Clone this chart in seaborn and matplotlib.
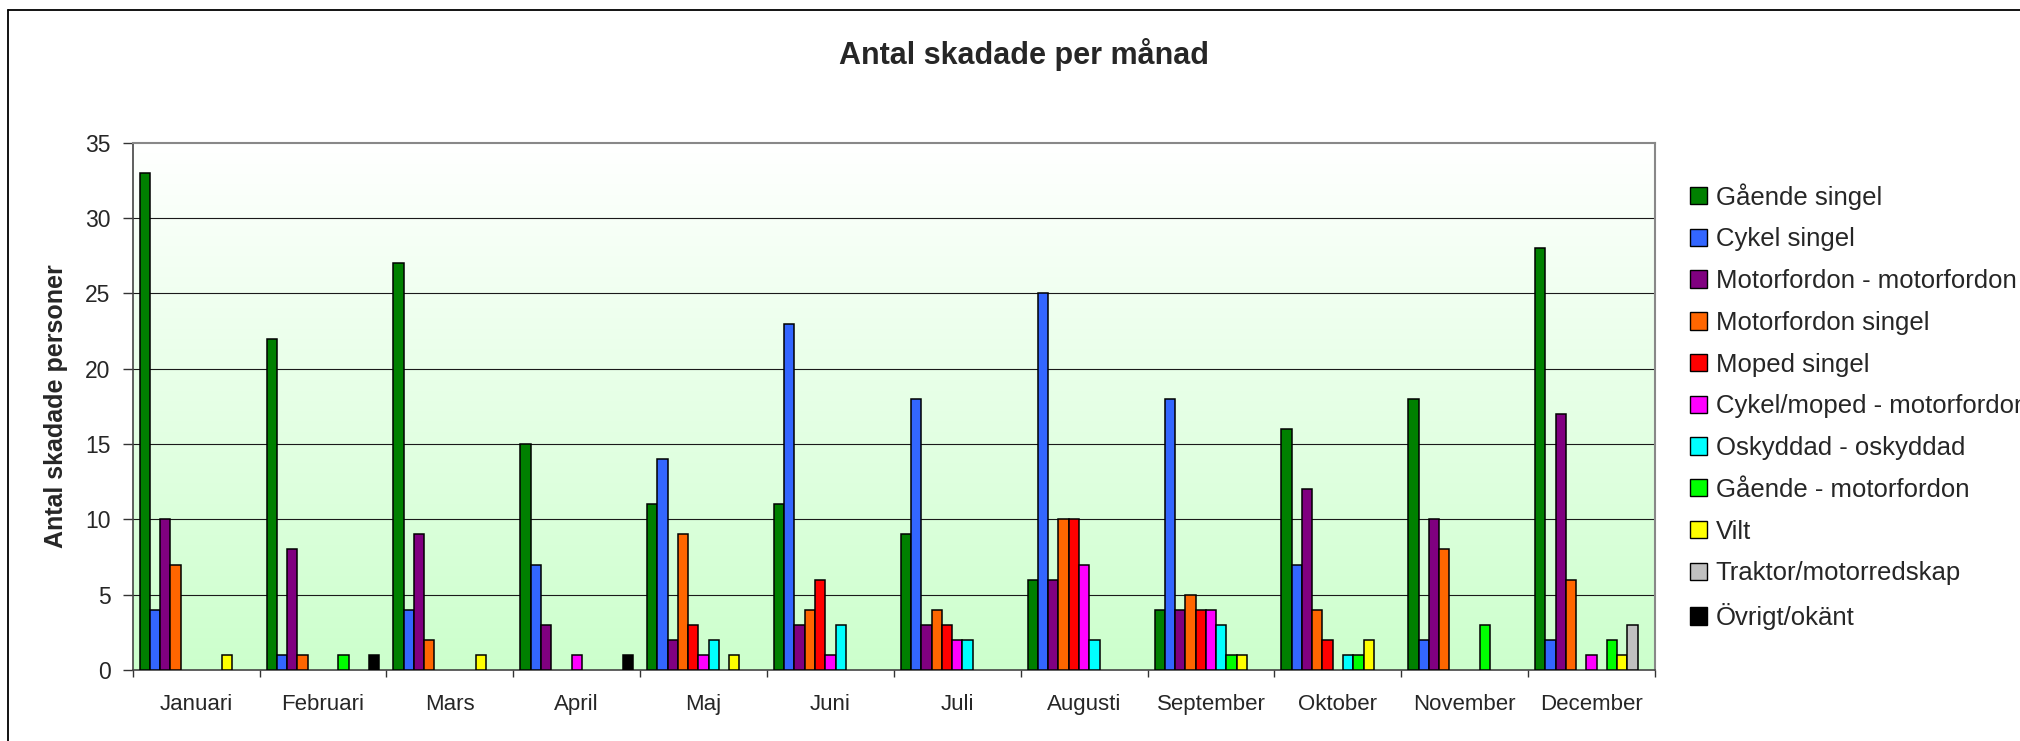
import matplotlib
matplotlib.use("Agg")
import matplotlib.pyplot as plt
from matplotlib.colors import LinearSegmentedColormap
from matplotlib.lines import Line2D
from matplotlib.patches import Patch
import seaborn as sns
import pandas as pd
import numpy as np

months = ["Januari", "Februari", "Mars", "April", "Maj", "Juni", "Juli",
          "Augusti", "September", "Oktober", "November", "December"]

types = ["Gående singel", "Cykel singel", "Motorfordon - motorfordon",
         "Motorfordon singel", "Moped singel", "Cykel/moped - motorfordon",
         "Oskyddad - oskyddad", "Gående - motorfordon", "Vilt",
         "Traktor/motorredskap", "Övrigt/okänt"]

colors = ["#008000", "#3366FF", "#800080", "#FF6600", "#FF0000", "#FF00FF",
          "#00FFFF", "#00FF00", "#FFFF00", "#C0C0C0", "#000000"]

# one list per series, Jan..Dec
gaende_singel = [33, 22, 27, 15, 11, 11, 9, 6, 4, 16, 18, 28]
cykel_singel = [4, 1, 4, 7, 14, 23, 18, 25, 18, 7, 2, 2]
mf_mf = [10, 8, 9, 3, 2, 3, 3, 6, 4, 12, 10, 17]
mf_singel = [7, 1, 2, 0, 9, 4, 4, 10, 5, 4, 8, 6]
moped_singel = [0, 0, 0, 0, 3, 6, 3, 10, 4, 2, 0, 0]
cykel_moped_mf = [0, 0, 0, 1, 1, 1, 2, 7, 4, 0, 0, 1]
oskyddad = [0, 0, 0, 0, 2, 3, 2, 2, 3, 1, 0, 0]
gaende_mf = [0, 1, 0, 0, 0, 0, 0, 0, 1, 1, 3, 2]
vilt = [1, 0, 1, 0, 1, 0, 0, 0, 1, 2, 0, 1]
traktor = [0, 0, 0, 0, 0, 0, 0, 0, 0, 0, 0, 3]
ovrigt = [0, 1, 0, 1, 0, 0, 0, 0, 0, 0, 0, 0]

series = [gaende_singel, cykel_singel, mf_mf, mf_singel, moped_singel,
          cykel_moped_mf, oskyddad, gaende_mf, vilt, traktor, ovrigt]

rows = []
for t, vals in zip(types, series):
    for m, v in zip(months, vals):
        if v > 0:
            rows.append({"month": m, "type": t, "count": v})
df = pd.DataFrame(rows)

sns.set_style("white")
plt.rcParams["font.family"] = ["Liberation Sans", "DejaVu Sans"]

fig = plt.figure(figsize=(20.2, 7.41), dpi=100)
ax = fig.add_axes([0.0657, 0.0958, 0.7536, 0.7116])

# gradient background
cmap = LinearSegmentedColormap.from_list("bg", ["#CCFFCC", "#FFFFFF"])
ax.imshow(np.linspace(0, 1, 256).reshape(-1, 1), extent=(-0.5, 11.5, 0, 35),
          cmap=cmap, aspect="auto", origin="lower", zorder=0)

for yv in range(5, 35, 5):
    ax.axhline(yv, color="#1a1a1a", lw=0.8, zorder=1)

sns.barplot(data=df, x="month", y="count", hue="type", order=months,
            hue_order=types, palette=colors, width=0.89, saturation=1,
            edgecolor="black", linewidth=1.1, errorbar=None, legend=False,
            ax=ax, zorder=3)

ax.set_xlim(-0.5, 11.5)
ax.set_ylim(0, 35)
ax.set_yticks(range(0, 36, 5))
ax.set_xlabel("")
ax.set_ylabel("Antal skadade personer", fontsize=18, fontweight="bold",
              labelpad=12)

ax.tick_params(axis="y", direction="out", length=7, width=1, color="#333333",
               labelsize=16.5, pad=9, left=True)
ax.tick_params(axis="x", which="major", length=0, labelsize=16, pad=17)
ax.set_xticks(np.arange(-0.5, 12, 1), minor=True)
ax.tick_params(axis="x", which="minor", direction="out", length=5, width=1,
               color="#333333", bottom=True)

for s in ["left", "bottom"]:
    ax.spines[s].set_color("#444444")
    ax.spines[s].set_linewidth(1.2)
for s in ["top", "right"]:
    ax.spines[s].set_color("#888888")
    ax.spines[s].set_linewidth(1.5)

fig.text(0.507, 0.927, "Antal skadade per månad", ha="center", va="center",
         fontsize=22, fontweight="bold")

handles = [Patch(facecolor=c, edgecolor="black", linewidth=1.0) for c in colors]
fig.legend(handles, types, loc="upper left", bbox_to_anchor=(0.8365, 0.753),
           frameon=False, fontsize=18.5, handlelength=0.66, handleheight=0.66,
           handletextpad=0.35, labelspacing=0.69, borderpad=0, borderaxespad=0)

# chart border (top and left edges visible)
fig.add_artist(Line2D([0.0041, 1.0], [0.9865, 0.9865], color="black", lw=1.3,
                      transform=fig.transFigure))
fig.add_artist(Line2D([0.0041, 0.0041], [0.0, 0.9865], color="black", lw=1.3,
                      transform=fig.transFigure))

fig.savefig("out.png", dpi=100, facecolor="white")
